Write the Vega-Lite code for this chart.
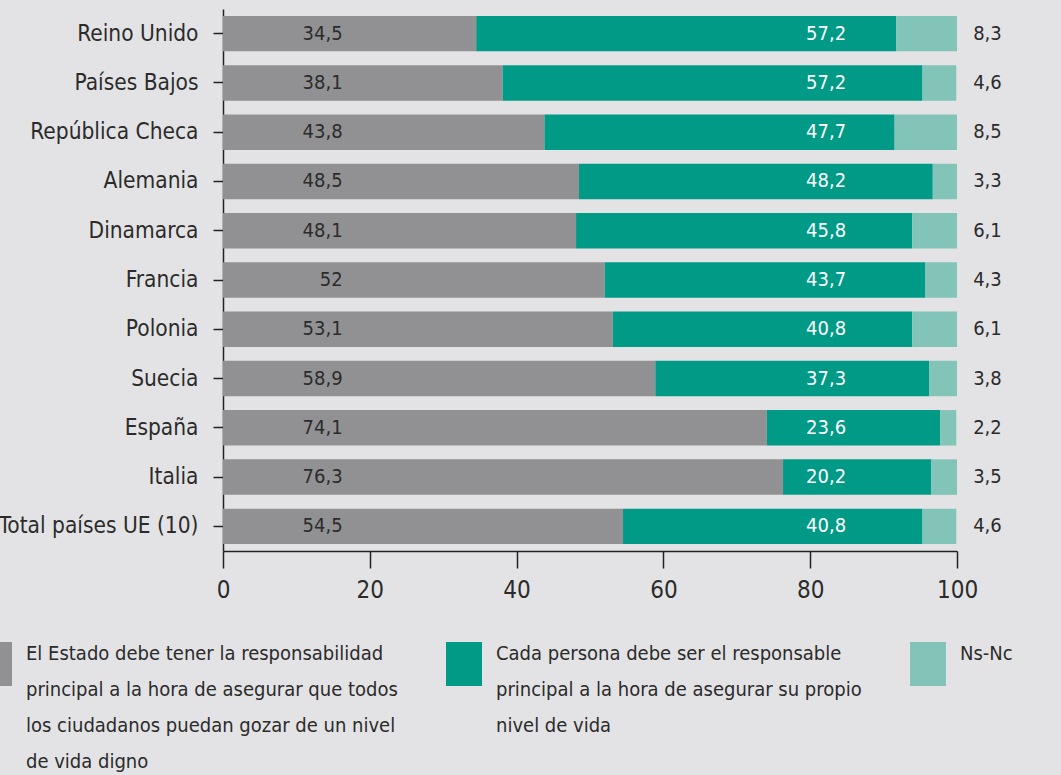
{
  "$schema": "https://vega.github.io/schema/vega-lite/v6.json",
  "width": 734,
  "height": 542,
  "autosize": {"type": "none"},
  "padding": {"left": 223, "top": 9, "right": 104, "bottom": 224},
  "background": "#e3e3e5",
  "config": {
    "view": {"stroke": null},
    "font": "DejaVu Sans Condensed, sans-serif",
    "locale": {"number": {"decimal": ",", "thousands": ".", "grouping": [3], "currency": ["", " €"]}}
  },
  "data": {
    "values": [
      {"pais": "Reino Unido", "cat": "Estado", "orden": 1, "valor": 34.5},
      {"pais": "Reino Unido", "cat": "Persona", "orden": 2, "valor": 57.2},
      {"pais": "Reino Unido", "cat": "NsNc", "orden": 3, "valor": 8.3},
      {"pais": "Países Bajos", "cat": "Estado", "orden": 1, "valor": 38.1},
      {"pais": "Países Bajos", "cat": "Persona", "orden": 2, "valor": 57.2},
      {"pais": "Países Bajos", "cat": "NsNc", "orden": 3, "valor": 4.6},
      {"pais": "República Checa", "cat": "Estado", "orden": 1, "valor": 43.8},
      {"pais": "República Checa", "cat": "Persona", "orden": 2, "valor": 47.7},
      {"pais": "República Checa", "cat": "NsNc", "orden": 3, "valor": 8.5},
      {"pais": "Alemania", "cat": "Estado", "orden": 1, "valor": 48.5},
      {"pais": "Alemania", "cat": "Persona", "orden": 2, "valor": 48.2},
      {"pais": "Alemania", "cat": "NsNc", "orden": 3, "valor": 3.3},
      {"pais": "Dinamarca", "cat": "Estado", "orden": 1, "valor": 48.1},
      {"pais": "Dinamarca", "cat": "Persona", "orden": 2, "valor": 45.8},
      {"pais": "Dinamarca", "cat": "NsNc", "orden": 3, "valor": 6.1},
      {"pais": "Francia", "cat": "Estado", "orden": 1, "valor": 52},
      {"pais": "Francia", "cat": "Persona", "orden": 2, "valor": 43.7},
      {"pais": "Francia", "cat": "NsNc", "orden": 3, "valor": 4.3},
      {"pais": "Polonia", "cat": "Estado", "orden": 1, "valor": 53.1},
      {"pais": "Polonia", "cat": "Persona", "orden": 2, "valor": 40.8},
      {"pais": "Polonia", "cat": "NsNc", "orden": 3, "valor": 6.1},
      {"pais": "Suecia", "cat": "Estado", "orden": 1, "valor": 58.9},
      {"pais": "Suecia", "cat": "Persona", "orden": 2, "valor": 37.3},
      {"pais": "Suecia", "cat": "NsNc", "orden": 3, "valor": 3.8},
      {"pais": "España", "cat": "Estado", "orden": 1, "valor": 74.1},
      {"pais": "España", "cat": "Persona", "orden": 2, "valor": 23.6},
      {"pais": "España", "cat": "NsNc", "orden": 3, "valor": 2.2},
      {"pais": "Italia", "cat": "Estado", "orden": 1, "valor": 76.3},
      {"pais": "Italia", "cat": "Persona", "orden": 2, "valor": 20.2},
      {"pais": "Italia", "cat": "NsNc", "orden": 3, "valor": 3.5},
      {"pais": "Total países UE (10)", "cat": "Estado", "orden": 1, "valor": 54.5},
      {"pais": "Total países UE (10)", "cat": "Persona", "orden": 2, "valor": 40.8},
      {"pais": "Total países UE (10)", "cat": "NsNc", "orden": 3, "valor": 4.6}
    ]
  },
  "encoding": {
    "y": {
      "field": "pais",
      "type": "nominal",
      "sort": null,
      "title": null,
      "scale": {"paddingInner": 0.28, "paddingOuter": 0.14},
      "axis": {
        "labelFontSize": 22.5,
        "labelColor": "#2b2b2b",
        "labelPadding": 15,
        "tickSize": 10,
        "tickColor": "#222222",
        "domainColor": "#222222",
        "tickWidth": 1.5,
        "domainWidth": 1.5,
        "labelLimit": 300
      }
    }
  },
  "layer": [
    {
      "mark": {"type": "bar"},
      "encoding": {
        "x": {
          "field": "valor",
          "type": "quantitative",
          "stack": "zero",
          "title": null,
          "scale": {"domain": [0, 100], "nice": false},
          "axis": {
            "values": [0, 20, 40, 60, 80, 100],
            "grid": false,
            "labelFontSize": 24,
            "labelColor": "#2b2b2b",
            "labelPadding": 10,
            "tickSize": 17,
            "tickColor": "#222222",
            "domainColor": "#222222",
            "tickWidth": 1.5,
            "domainWidth": 1.5,
            "labelFlush": false
          }
        },
        "color": {
          "field": "cat",
          "type": "nominal",
          "scale": {
            "domain": ["Estado", "Persona", "NsNc"],
            "range": ["#919193", "#009a86", "#82c4b8"]
          },
          "legend": {
            "title": null,
            "orient": "none",
            "direction": "horizontal",
            "legendX": -247,
            "legendY": 637,
            "columns": 3,
            "columnPadding": 48,
            "padding": 0,
            "symbolType": "M-1,-1.22H1V1.22H-1Z",
            "symbolSize": 1296,
            "symbolOpacity": 1,
            "symbolStrokeWidth": 0,
            "labelFontSize": 20,
            "labelColor": "#2b2b2b",
            "labelOffset": 14,
            "labelLimit": 600,
            "labelBaseline": "top",
            "labelExpr": "datum.label == 'Estado' ? ['El Estado debe tener la responsabilidad', 'principal a la hora de asegurar que todos', 'los ciudadanos puedan gozar de un nivel', 'de vida digno'] : datum.label == 'Persona' ? ['Cada persona debe ser el responsable', 'principal a la hora de asegurar su propio', 'nivel de vida', ' '] : ['Ns-Nc', ' ', ' ', ' ']",
            "encode": {"labels": {"update": {"lineHeight": {"value": 36}, "dy": {"value": -20}}}}
          }
        },
        "order": {"field": "orden", "type": "quantitative"}
      }
    },
    {
      "transform": [{"filter": "datum.cat == 'Estado'"}],
      "mark": {"type": "text", "align": "right", "baseline": "middle", "fontSize": 20, "color": "#2b2b2b"},
      "encoding": {
        "x": {"datum": 16.3},
        "text": {"field": "valor", "type": "quantitative", "format": ".1~f"}
      }
    },
    {
      "transform": [{"filter": "datum.cat == 'Persona'"}],
      "mark": {"type": "text", "align": "right", "baseline": "middle", "fontSize": 20, "color": "#ffffff"},
      "encoding": {
        "x": {"datum": 84.9},
        "text": {"field": "valor", "type": "quantitative", "format": ".1~f"}
      }
    },
    {
      "transform": [{"filter": "datum.cat == 'NsNc'"}],
      "mark": {"type": "text", "align": "left", "baseline": "middle", "fontSize": 20, "color": "#2b2b2b"},
      "encoding": {
        "x": {"datum": 102.2},
        "text": {"field": "valor", "type": "quantitative", "format": ".1~f"}
      }
    }
  ]
}
